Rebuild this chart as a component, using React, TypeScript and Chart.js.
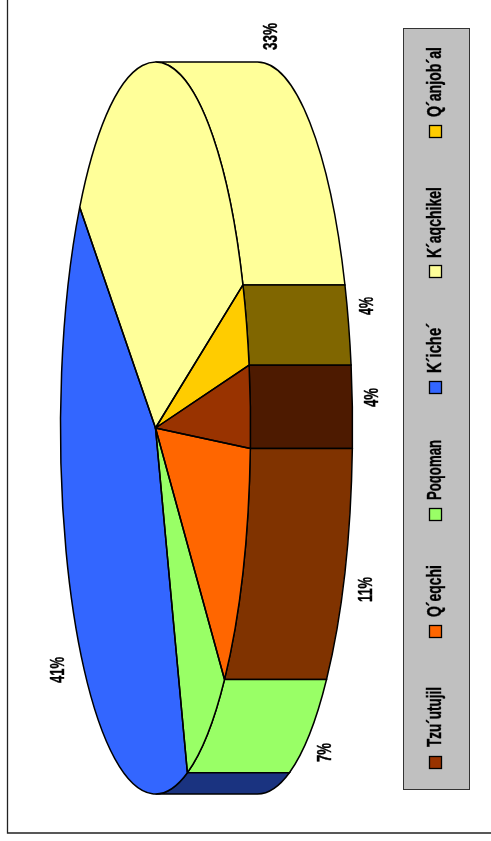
import React, { useEffect, useRef } from "react";
import { Chart, registerables } from "chart.js";

Chart.register(...registerables);

const languages = ["Tzu´utujil", "Q´eqchi", "Poqoman", "K´iche´", "K´aqchikel", "Q´anjob´al"];
const shares = [3.64, 11.17, 7.49, 40.75, 33.31, 3.64];
const topColors = ["#993300", "#FF6600", "#99FF66", "#3366FF", "#FFFF99", "#FFCC00"];
const wallColors = ["#4D1A00", "#803300", "#99FF66", "#1A3380", "#FFFF99", "#806600"];

// layout constants (not data)
const DEPTH = 102;
const RY = 366;
const FONT = 'bold 21px "Liberation Sans Narrow", "Liberation Sans", sans-serif';
const legendLayout = [
  { swatchY: 756, textY: 747, w: 60 },
  { swatchY: 625, textY: 617, w: 52 },
  { swatchY: 508, textY: 500, w: 60 },
  { swatchY: 381, textY: 373, w: 50 },
  { swatchY: 265, textY: 258, w: 71 },
  { swatchY: 125, textY: 117, w: 70 },
];
const labelLayout = [
  { x: 378, y: 407, w: 19 },
  { x: 372, y: 602, w: 25 },
  { x: 331, y: 762, w: 19 },
  { x: 64, y: 683, w: 26 },
  { x: 277, y: 50, w: 27 },
  { x: 373, y: 315, w: 18 },
];

function vText(ctx: CanvasRenderingContext2D, s: string, x: number, y: number, w: number) {
  ctx.save();
  ctx.translate(x, y);
  ctx.rotate(-Math.PI / 2);
  ctx.font = FONT;
  ctx.fillStyle = "#000";
  ctx.strokeStyle = "#000";
  ctx.lineWidth = 0.4;
  ctx.textAlign = "left";
  ctx.textBaseline = "alphabetic";
  ctx.fillText(s, 0, 0, w);
  ctx.strokeText(s, 0, 0, w);
  ctx.restore();
}

const pie3d = {
  id: "pie3d",
  beforeDraw(chart: any) {
    const { ctx } = chart;
    ctx.save();
    ctx.strokeStyle = "#222";
    ctx.lineWidth = 1.3;
    ctx.beginPath();
    ctx.moveTo(7.5, 0);
    ctx.lineTo(7.5, 833);
    ctx.lineTo(491, 833);
    ctx.stroke();
    ctx.restore();
  },
  beforeDatasetsDraw(chart: any) {
    const { ctx } = chart;
    const arcs = chart.getDatasetMeta(0).data;
    const cx = arcs[0].x, cy = arcs[0].y, rx = arcs[0].outerRadius;
    // side wall: the half of the rim facing +x, i.e. angles -PI/2..PI/2
    arcs.forEach((arc: any, i: number) => {
      const ranges: [number, number][] = [];
      const tau = Math.PI * 2;
      for (const k of [-1, 0, 1]) {
        const a = Math.max(arc.startAngle + k * tau, -Math.PI / 2);
        const b = Math.min(arc.endAngle + k * tau, Math.PI / 2);
        if (b > a) ranges.push([a, b]);
      }
      ranges.forEach(([a, b]) => {
        ctx.save();
        ctx.beginPath();
        ctx.ellipse(cx, cy, rx, RY, 0, a, b, false);
        ctx.ellipse(cx + DEPTH, cy, rx, RY, 0, b, a, true);
        ctx.closePath();
        ctx.fillStyle = wallColors[i];
        ctx.fill();
        ctx.strokeStyle = "#000";
        ctx.lineWidth = 1.5;
        ctx.stroke();
        ctx.restore();
      });
    });
    ctx.save();
    ctx.translate(cx, cy);
    ctx.scale(1, RY / rx);
    ctx.translate(-cx, -cy);
  },
  afterDatasetsDraw(chart: any) {
    const { ctx } = chart;
    ctx.restore();
    const arcs = chart.getDatasetMeta(0).data;
    arcs.forEach((arc: any) => {
      ctx.save();
      ctx.beginPath();
      ctx.moveTo(arc.x, arc.y);
      ctx.ellipse(arc.x, arc.y, arc.outerRadius, RY, 0, arc.startAngle, arc.endAngle, false);
      ctx.closePath();
      ctx.strokeStyle = "#000";
      ctx.lineWidth = 1.5;
      ctx.lineJoin = "round";
      ctx.stroke();
      ctx.restore();
    });
    // percentage labels
    const values: number[] = chart.data.datasets[0].data;
    values.forEach((v, i) => {
      const p = labelLayout[i];
      vText(ctx, Math.round(v) + "%", p.x, p.y, p.w);
    });
    // legend
    ctx.save();
    ctx.fillStyle = "#C0C0C0";
    ctx.strokeStyle = "#333";
    ctx.lineWidth = 1;
    ctx.fillRect(403.5, 28.5, 66, 761);
    ctx.strokeRect(403.5, 28.5, 66, 761);
    ctx.restore();
    (chart.data.labels as string[]).forEach((name, i) => {
      const l = legendLayout[i];
      ctx.save();
      ctx.fillStyle = chart.data.datasets[0].backgroundColor[i];
      ctx.strokeStyle = "#000";
      ctx.lineWidth = 1.3;
      ctx.fillRect(429.5, l.swatchY + 0.5, 12, 12);
      ctx.strokeRect(429.5, l.swatchY + 0.5, 12, 12);
      ctx.restore();
      vText(ctx, name, 441, l.textY, l.w);
    });
  },
};

export default function App() {
  const ref = useRef<HTMLCanvasElement | null>(null);
  useEffect(() => {
    const chart = new Chart(ref.current!, {
      type: "pie",
      data: {
        labels: languages,
        datasets: [
          {
            data: shares,
            backgroundColor: topColors,
            borderWidth: 0,
            clip: false,
          } as any,
        ],
      },
      options: {
        animation: false,
        responsive: false,
        rotation: 80.1,
        layout: { padding: { left: 60.5, right: 240.5, top: 333, bottom: 318 } },
        plugins: { legend: { display: false }, tooltip: { enabled: false } },
      },
      plugins: [pie3d],
    });
    return () => chart.destroy();
  }, []);
  return (
    <canvas
      ref={ref}
      width={491}
      height={841}
      style={{ position: "fixed", left: 0, top: 0, width: 491, height: 841, background: "#fff" }}
    />
  );
}
